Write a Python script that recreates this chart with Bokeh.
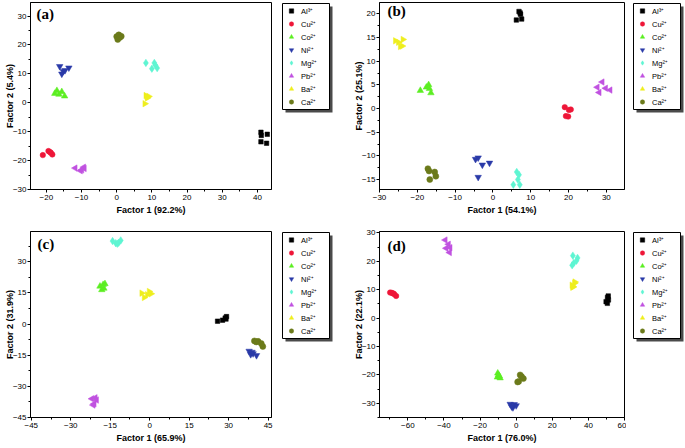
import math
from bokeh.plotting import figure
from bokeh.models import (Range1d, SingleIntervalTicker, Legend, LegendItem, Label)
from bokeh.layouts import row, column
from bokeh.embed import file_html
from bokeh.resources import INLINE

# ---------------- data ----------------
ions = ["Al³⁺", "Cu²⁺", "Co²⁺", "Ni²⁺", "Mg²⁺", "Pb²⁺", "Ba²⁺", "Ca²⁺"]
colors = ["#000000", "#ee1638", "#5cee22", "#2a3aa8", "#5ef5d2", "#c052e0", "#eeee1e", "#6b7a1a"]
markers = ["square", "circle", "triangle", "inverted_triangle", "diamond", "triangle", "triangle", "circle"]
angles = [0, 0, 0, 0, 0, math.pi / 2, -math.pi / 2, 0]
sizes = [4.5, 5.5, 6.5, 6.5, 7.5, 6.5, 6.5, 6]

# panel (a)
a_x = [[41.0, 41.1, 42.8, 41.0, 42.6],
       [-21.0, -19.4, -18.7, -18.3, -19.0],
       [-17.0, -16.4, -15.6, -14.8, -17.6],
       [-16.2, -13.6, -15.2, -15.6, -14.7],
       [8.3, 10.7, 10.0, 11.5, 11.0],
       [-11.8, -10.3, -9.4, -9.9, -9.2],
       [8.3, 9.1, 8.6, 8.0, 8.7],
       [0.0, 0.6, 1.3, 0.3, 0.9]]
a_y = [[-10.2, -11.3, -10.9, -13.5, -14.0],
       [-18.1, -16.7, -17.3, -17.9, -17.0],
       [4.2, 2.9, 3.8, 2.3, 3.2],
       [12.6, 12.1, 10.9, 10.0, 11.2],
       [13.8, 13.8, 11.8, 12.0, 13.0],
       [-22.6, -23.5, -22.3, -23.2, -22.7],
       [2.5, 2.2, 2.0, -0.3, 1.7],
       [22.9, 23.5, 23.0, 21.9, 22.6]]

# panel (b)
b_x = [[6.9, 7.3, 6.2, 7.6, 7.2],
       [19.0, 20.1, 20.6, 19.3, 19.9],
       [-19.2, -17.6, -17.0, -16.8, -16.4],
       [-4.6, -3.9, -2.8, -0.9, -3.9],
       [6.3, 6.9, 6.6, 5.4, 7.1],
       [27.6, 28.9, 28.1, 29.8, 31.0],
       [-25.8, -23.8, -24.5, -24.0, -25.0],
       [-17.2, -16.9, -15.4, -15.1, -16.7]]
b_y = [[20.5, 19.9, 18.7, 18.9, 20.2],
       [0.3, -0.3, -0.2, -1.6, -1.7],
       [3.8, 4.5, 5.0, 4.2, 3.3],
       [-10.7, -10.4, -11.9, -11.5, -14.5],
       [-13.4, -14.0, -15.0, -16.1, -16.1],
       [4.5, 5.6, 3.4, 4.3, 3.9],
       [14.3, 14.6, 13.1, 13.2, 14.0],
       [-12.7, -13.2, -13.4, -14.3, -15.0]]

# panel (c)  (no Cu2+ points visible in the plotted window)
c_x = [[25.8, 27.7, 28.7, 29.2, 29.0],
       [],
       [-18.9, -17.7, -17.0, -18.2, -17.4],
       [37.8, 38.4, 39.3, 40.6, 38.9],
       [-14.1, -12.9, -11.8, -11.0, -12.3],
       [-22.0, -20.7, -21.1, -20.2, -21.5],
       [-3.0, -2.1, -0.2, 0.5, -0.9],
       [39.8, 41.2, 42.4, 43.0, 40.5]]
c_y = [[1.4, 1.9, 2.9, 3.6, 2.4],
       [],
       [18.2, 19.0, 19.4, 16.5, 17.2],
       [-13.0, -14.6, -14.2, -15.1, -13.5],
       [40.0, 39.0, 39.2, 40.3, 38.7],
       [-36.0, -35.5, -38.4, -36.6, -39.0],
       [14.9, 12.8, 15.7, 14.6, 14.1],
       [-8.1, -8.3, -9.3, -10.8, -8.6]]

# panel (d)
d_x = [[50.6, 51.1, 49.8, 50.5, 51.0],
       [-69.8, -68.9, -67.6, -66.5, -68.2],
       [-10.2, -9.3, -10.4, -8.9, -9.8],
       [-3.3, -1.8, -1.1, 0.0, -2.5],
       [31.4, 34.0, 33.4, 31.9, 31.0],
       [-39.3, -37.5, -36.6, -38.8, -36.9],
       [30.9, 32.3, 31.6, 32.5, 31.2],
       [2.2, 3.0, 4.0, 1.4, 0.8]]
d_y = [[7.3, 6.4, 5.8, 5.2, 7.8],
       [9.0, 8.9, 8.5, 7.8, 8.7],
       [-19.4, -20.4, -20.8, -21.1, -20.0],
       [-30.3, -31.5, -30.4, -30.8, -31.2],
       [22.0, 21.2, 20.2, 19.4, 18.6],
       [27.5, 26.0, 24.8, 24.6, 23.1],
       [11.6, 12.3, 11.0, 12.7, 10.9],
       [-20.0, -20.6, -21.3, -22.3, -22.5]]

x_labels = ["Factor 1 (92.2%)", "Factor 1 (54.1%)", "Factor 1 (65.9%)", "Factor 1 (76.0%)"]
y_labels = ["Factor 2 (5.4%)", "Factor 2 (25.1%)", "Factor 2 (31.9%)", "Factor 2 (22.1%)"]
panel_tags = ["(a)", "(b)", "(c)", "(d)"]

# ---------------- layout / style ----------------
FONT = "Liberation Sans"
RB = 2            # right border of the data figure
LEG_W, LEG_H = 47, 106


def style_legend(leg):
    leg.label_text_font = FONT
    leg.label_text_font_size = "7.5px"
    leg.label_text_color = "black"
    leg.glyph_width = 14
    leg.glyph_height = 11
    leg.label_height = 11
    leg.label_width = 26
    leg.label_standoff = 3
    leg.spacing = 2
    leg.padding = 2
    leg.margin = 0
    leg.border_line_alpha = 0.0
    leg.background_fill_alpha = 0.0


def panel(xs, ys, tag, xlab, ylab, xr, yr, xint, yint,
          fig_w, fig_h, bl, bt, fw, fh, lx, tag_dx, tag_dy):
    main_w = bl + fw + RB
    bb = fig_h - bt - fh
    p = figure(width=main_w, height=fig_h, output_backend="svg", toolbar_location=None,
               x_range=Range1d(*xr), y_range=Range1d(*yr),
               min_border_left=bl, min_border_right=RB,
               min_border_top=bt, min_border_bottom=bb)
    p.grid.visible = False
    p.outline_line_color = "black"
    p.outline_line_width = 1
    p.background_fill_color = "white"
    p.border_fill_color = "white"
    p.xaxis.ticker = SingleIntervalTicker(interval=xint, num_minor_ticks=2)
    p.yaxis.ticker = SingleIntervalTicker(interval=yint, num_minor_ticks=2)
    for ax in (p.xaxis[0], p.yaxis[0]):
        ax.axis_line_color = "black"
        ax.major_tick_line_color = "black"
        ax.minor_tick_line_color = "black"
        ax.major_tick_in = 0
        ax.major_tick_out = 3
        ax.minor_tick_in = 0
        ax.minor_tick_out = 2
        ax.major_label_text_font = FONT
        ax.major_label_text_font_size = "8px"
        ax.major_label_text_color = "black"
        ax.axis_label_text_font = FONT
        ax.axis_label_text_font_size = "9px"
        ax.axis_label_text_font_style = "bold"
        ax.axis_label_text_color = "black"
    p.xaxis.major_label_standoff = 2
    p.xaxis.axis_label_standoff = 2
    p.yaxis.major_label_standoff = 1
    p.yaxis.axis_label_standoff = -5
    p.xaxis.axis_label = xlab
    p.yaxis.axis_label = ylab

    for i in range(len(ions)):
        p.scatter(xs[i], ys[i], marker=markers[i], size=sizes[i], angle=angles[i],
                  fill_color=colors[i], line_color=colors[i], line_width=0.5)

    p.add_layout(Label(x=xr[0], y=yr[1], x_offset=tag_dx, y_offset=-tag_dy, text=tag,
                       text_font="Liberation Serif", text_font_style="bold",
                       text_font_size="15px", text_color="black",
                       text_baseline="top", text_align="left"))

    # legend in its own small figure to the right; its frame is aligned with the data frame
    lw = fig_w - main_w
    lg = figure(width=lw, height=fig_h, output_backend="svg", toolbar_location=None,
                x_range=Range1d(0, lw), y_range=Range1d(0, fh),
                x_axis_type=None, y_axis_type=None,
                min_border_left=0, min_border_right=0,
                min_border_top=bt, min_border_bottom=bb)
    lg.grid.visible = False
    lg.outline_line_color = None
    lg.background_fill_color = "white"
    lg.border_fill_color = "white"
    # swatch renderers use ranges that keep their points out of this small frame
    lg.extra_x_ranges = {"sw": Range1d(-1000, -999)}
    lg.extra_y_ranges = {"sw": Range1d(-1000, -999)}

    # legend box with drop shadow (drawn in the small figure's pixel-like units)
    top = fh - 1
    lg.quad(left=[lx + 3], right=[lx + 3 + LEG_W], top=[top - 3], bottom=[top - 3 - LEG_H],
            fill_color="#4a4a4a", line_color=None)
    lg.quad(left=[lx], right=[lx + LEG_W], top=[top], bottom=[top - LEG_H],
            fill_color="white", line_color="black", line_width=1)

    items = []
    for i in range(len(ions)):
        sx = xs[i] if len(xs[i]) else a_x[i]
        sy = ys[i] if len(ys[i]) else a_y[i]
        r = lg.scatter(sx, sy, marker=markers[i], size=sizes[i], angle=angles[i],
                       fill_color=colors[i], line_color=colors[i], line_width=0.5,
                       x_range_name="sw", y_range_name="sw")
        items.append(LegendItem(label=ions[i], renderers=[r]))
    leg = Legend(items=items, location=(lx, top - LEG_H))
    style_legend(leg)
    lg.add_layout(leg)
    return row(p, lg)


pa = panel(a_x, a_y, panel_tags[0], x_labels[0], y_labels[0], (-24.5, 44.0), (-30, 34.7), 10, 10,
           340, 224, 30, 2, 241, 187, 9, 6, 3)
pb = panel(b_x, b_y, panel_tags[1], x_labels[1], y_labels[1], (-30, 34.8), (-17.1, 22.4), 10, 5,
           344, 224, 39, 2, 245, 187, 7, 8, 0)
pc = panel(c_x, c_y, panel_tags[2], x_labels[2], y_labels[2], (-45.3, 46.3), (-45, 44.6), 15, 15,
           340, 223, 30, 7, 241, 186, 9, 7, 4)
pd = panel(d_x, d_y, panel_tags[3], x_labels[3], y_labels[3], (-75.7, 60), (-35, 30.5), 20, 10,
           344, 223, 39, 7, 245, 186, 7, 8, 6)

layout = column(row(pa, pb), row(pc, pd))
open("out.html", "w").write(file_html(layout, INLINE))
